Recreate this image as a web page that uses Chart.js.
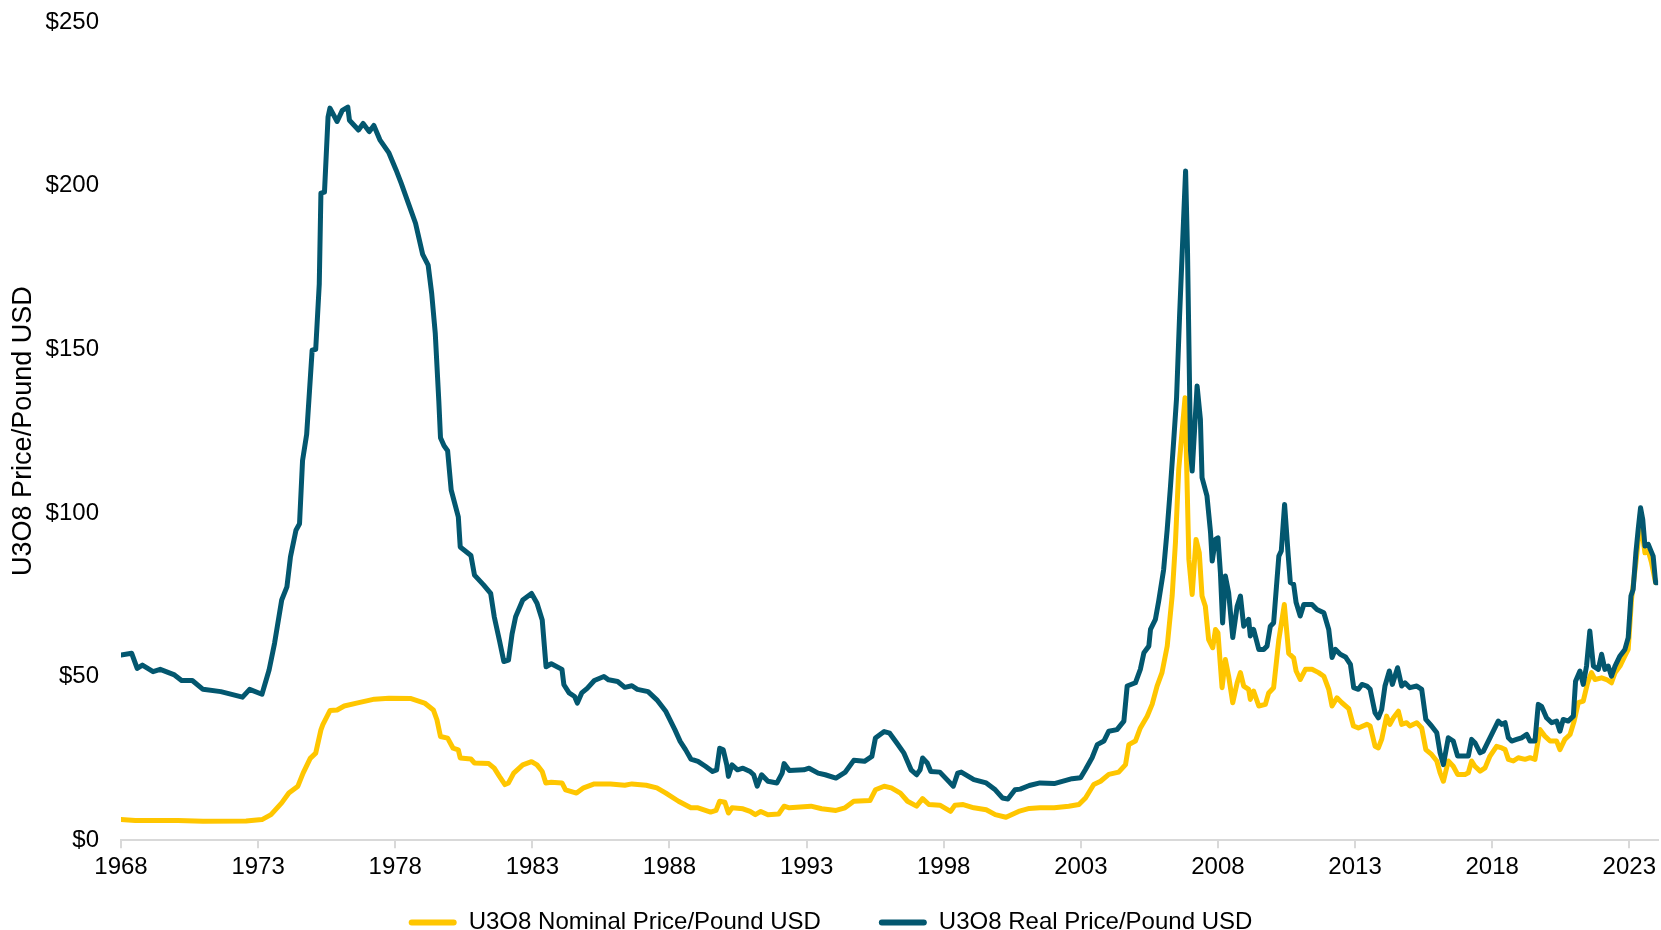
<!DOCTYPE html>
<html>
<head>
<meta charset="utf-8">
<script src="https://cdn.jsdelivr.net/npm/chart.js@4.4.1/dist/chart.umd.min.js"></script>
<style>
  html, body { margin: 0; padding: 0; background: #ffffff; }
  #wrap { width: 1661px; height: 930px; }
</style>
</head>
<body>
<div id="wrap"><canvas id="uranium_canva" width="1661" height="930"></canvas></div>
<script>
// ----- DATA (decimal years) -----
const yearTicks = [1968, 1973, 1978, 1983, 1988, 1993, 1998, 2003, 2008, 2013, 2018, 2023];
const priceTicks = [0, 50, 100, 150, 200, 250];

const realDates = [
    1968.00, 1968.39, 1968.59, 1968.78, 1969.17, 1969.43, 1969.95, 1970.21, 1970.60, 1970.99,
    1971.64, 1972.43, 1972.69, 1973.14, 1973.40, 1973.60, 1973.86, 1974.05, 1974.18, 1974.38,
    1974.51, 1974.62, 1974.77, 1974.97, 1975.10, 1975.23, 1975.29, 1975.42, 1975.55, 1975.62,
    1975.88, 1976.07, 1976.27, 1976.33, 1976.66, 1976.83, 1977.05, 1977.22, 1977.44, 1977.77,
    1978.03, 1978.22, 1978.48, 1978.74, 1979.00, 1979.20, 1979.33, 1979.46, 1979.59, 1979.65,
    1979.78, 1979.91, 1980.04, 1980.30, 1980.37, 1980.76, 1980.89, 1981.22, 1981.48, 1981.61,
    1981.80, 1981.96, 1982.13, 1982.26, 1982.39, 1982.65, 1982.97, 1983.17, 1983.36, 1983.50,
    1983.69, 1984.08, 1984.15, 1984.34, 1984.54, 1984.64, 1984.80, 1985.00, 1985.26, 1985.61,
    1985.78, 1986.11, 1986.37, 1986.63, 1986.83, 1987.22, 1987.54, 1987.87, 1988.20, 1988.39,
    1988.59, 1988.78, 1989.04, 1989.31, 1989.57, 1989.72, 1989.83, 1989.96, 1990.09, 1990.15,
    1990.28, 1990.48, 1990.68, 1990.94, 1991.07, 1991.20, 1991.36, 1991.59, 1991.92, 1992.11,
    1992.18, 1992.37, 1992.90, 1993.09, 1993.42, 1993.68, 1994.07, 1994.40, 1994.72, 1995.11,
    1995.38, 1995.51, 1995.83, 1996.03, 1996.29, 1996.55, 1996.81, 1997.01, 1997.14, 1997.23,
    1997.40, 1997.53, 1997.86, 1998.12, 1998.35, 1998.51, 1998.64, 1999.10, 1999.55, 1999.88,
    2000.14, 2000.34, 2000.60, 2000.79, 2001.12, 2001.51, 2002.03, 2002.68, 2002.99, 2003.17,
    2003.41, 2003.60, 2003.84, 2004.02, 2004.32, 2004.57, 2004.69, 2004.99, 2005.17, 2005.30,
    2005.48, 2005.54, 2005.72, 2005.84, 2006.02, 2006.15, 2006.27, 2006.39, 2006.49, 2006.60,
    2006.82, 2006.89, 2007.00, 2007.06, 2007.24, 2007.36, 2007.42, 2007.60, 2007.73, 2007.79,
    2007.91, 2008.00, 2008.09, 2008.17, 2008.27, 2008.39, 2008.54, 2008.70, 2008.82, 2008.94,
    2009.12, 2009.18, 2009.30, 2009.49, 2009.67, 2009.79, 2009.91, 2010.03, 2010.22, 2010.31,
    2010.43, 2010.56, 2010.64, 2010.76, 2010.85, 2011.00, 2011.13, 2011.43, 2011.61, 2011.86,
    2012.04, 2012.16, 2012.28, 2012.46, 2012.65, 2012.83, 2012.95, 2013.12, 2013.25, 2013.43,
    2013.55, 2013.73, 2013.85, 2013.97, 2014.09, 2014.25, 2014.36, 2014.55, 2014.70, 2014.82,
    2015.00, 2015.25, 2015.43, 2015.58, 2015.79, 2015.98, 2016.10, 2016.22, 2016.40, 2016.58,
    2016.74, 2016.95, 2017.13, 2017.25, 2017.37, 2017.56, 2017.68, 2017.86, 2018.04, 2018.22,
    2018.35, 2018.47, 2018.59, 2018.71, 2018.89, 2019.07, 2019.26, 2019.38, 2019.56, 2019.68,
    2019.80, 2019.98, 2020.17, 2020.35, 2020.47, 2020.59, 2020.77, 2020.96, 2021.04, 2021.20,
    2021.32, 2021.44, 2021.56, 2021.69, 2021.87, 2021.99, 2022.11, 2022.23, 2022.35, 2022.48,
    2022.66, 2022.84, 2022.96, 2023.06, 2023.14, 2023.24, 2023.33, 2023.41, 2023.49, 2023.57,
    2023.69, 2023.79, 2023.87, 2023.96, 2024.02
];
const realPrice = [
    56.6, 57.1, 52.5, 53.5, 51.5, 52.2, 50.5, 48.8, 48.8, 46.1,
    45.4, 43.7, 46.1, 44.6, 52.0, 60.2, 73.4, 77.4, 86.6, 94.7,
    96.7, 116.0, 124.0, 149.7, 150.0, 170.0, 197.7, 198.0, 221.0, 223.7,
    219.6, 223.0, 224.0, 220.0, 217.0, 219.0, 216.5, 218.4, 214.0, 210.0,
    204.8, 200.7, 194.6, 188.5, 179.0, 175.7, 167.0, 154.8, 134.0, 123.0,
    120.5, 119.0, 107.0, 98.8, 89.6, 87.0, 81.0, 78.0, 75.4, 68.3,
    61.0, 54.6, 55.0, 63.0, 68.3, 73.4, 75.4, 72.4, 67.3, 53.0,
    53.9, 52.2, 47.5, 45.0, 43.9, 41.9, 45.0, 46.4, 48.8, 50.0,
    49.0, 48.5, 46.7, 47.2, 46.1, 45.4, 42.9, 39.3, 33.7, 30.2,
    27.6, 24.8, 24.1, 22.6, 21.0, 21.5, 28.1, 27.6, 23.0, 19.5,
    23.0, 21.5, 22.0, 21.0, 20.0, 16.5, 20.0, 18.0, 17.5, 20.5,
    23.4, 21.3, 21.5, 22.0, 20.5, 20.0, 19.0, 20.7, 24.4, 24.1,
    25.6, 31.2, 33.2, 32.7, 29.7, 26.6, 21.5, 20.0, 21.5, 25.1,
    23.6, 21.0, 20.8, 18.5, 16.5, 20.5, 20.8, 18.5, 17.5, 15.4,
    12.9, 12.6, 15.4, 15.6, 16.7, 17.5, 17.3, 18.8, 19.1, 21.6,
    25.2, 29.2, 30.3, 33.3, 33.8, 36.4, 47.1, 48.1, 52.2, 57.3,
    59.3, 64.4, 67.5, 73.1, 82.7, 95.0, 108.2, 122.5, 135.0, 160.0,
    204.5, 180.0, 119.0, 112.8, 138.8, 128.6, 110.8, 105.2, 94.0, 85.3,
    91.9, 92.4, 81.7, 66.4, 80.7, 75.6, 61.9, 71.5, 74.6, 65.4,
    67.5, 62.4, 64.4, 58.3, 58.3, 59.3, 65.4, 66.4, 86.8, 88.4,
    102.6, 87.3, 78.7, 78.2, 72.6, 68.5, 72.0, 72.0, 70.5, 69.5,
    64.4, 55.8, 58.3, 56.8, 56.0, 53.7, 46.6, 46.1, 47.6, 47.1,
    46.1, 38.9, 37.4, 39.9, 47.1, 51.7, 47.6, 52.7, 47.1, 48.1,
    46.6, 47.1, 46.1, 36.9, 34.9, 32.8, 26.7, 23.1, 31.3, 30.3,
    25.7, 25.7, 25.7, 30.8, 29.8, 26.7, 27.2, 30.3, 33.3, 36.4,
    35.4, 35.9, 31.3, 30.3, 30.8, 31.3, 32.3, 30.3, 30.3, 41.5,
    40.9, 37.4, 35.9, 36.4, 33.3, 36.9, 36.4, 37.9, 48.6, 51.7,
    47.6, 53.2, 63.9, 53.2, 52.2, 56.8, 52.2, 53.2, 50.1, 53.2,
    56.3, 58.3, 61.9, 74.6, 76.6, 87.8, 95.5, 101.6, 98.0, 89.9,
    90.4, 88.4, 86.8, 78.7, 78.7
];

const nominalDates = [
    1968.00, 1968.52, 1970.08, 1970.99, 1972.56, 1973.14, 1973.47, 1973.86, 1974.12, 1974.45,
    1974.64, 1974.90, 1975.10, 1975.29, 1975.36, 1975.62, 1975.88, 1976.14, 1976.59, 1977.24,
    1977.77, 1978.55, 1979.07, 1979.39, 1979.52, 1979.65, 1979.91, 1980.11, 1980.30, 1980.37,
    1980.76, 1980.89, 1981.41, 1981.61, 1981.80, 1982.00, 1982.13, 1982.32, 1982.65, 1982.97,
    1983.17, 1983.36, 1983.49, 1983.69, 1984.08, 1984.21, 1984.61, 1984.87, 1985.26, 1985.85,
    1986.37, 1986.63, 1987.15, 1987.54, 1987.87, 1988.33, 1988.78, 1989.04, 1989.50, 1989.70,
    1989.83, 1990.02, 1990.15, 1990.28, 1990.68, 1990.94, 1991.13, 1991.33, 1991.59, 1991.98,
    1992.18, 1992.37, 1993.16, 1993.55, 1994.07, 1994.40, 1994.72, 1995.31, 1995.51, 1995.83,
    1996.09, 1996.42, 1996.68, 1997.01, 1997.23, 1997.46, 1997.86, 1998.25, 1998.41, 1998.71,
    1999.10, 1999.55, 1999.88, 2000.27, 2000.47, 2000.73, 2001.12, 2001.51, 2002.03, 2002.56,
    2002.93, 2003.17, 2003.47, 2003.72, 2004.02, 2004.38, 2004.63, 2004.75, 2004.99, 2005.17,
    2005.42, 2005.60, 2005.78, 2005.96, 2006.15, 2006.33, 2006.45, 2006.57, 2006.80, 2006.94,
    2007.06, 2007.20, 2007.32, 2007.42, 2007.54, 2007.66, 2007.81, 2007.91, 2008.00, 2008.15,
    2008.27, 2008.39, 2008.54, 2008.70, 2008.82, 2008.94, 2009.12, 2009.18, 2009.30, 2009.49,
    2009.73, 2009.85, 2010.03, 2010.22, 2010.42, 2010.58, 2010.76, 2010.85, 2011.00, 2011.19,
    2011.43, 2011.67, 2011.86, 2012.04, 2012.16, 2012.34, 2012.52, 2012.77, 2012.94, 2013.12,
    2013.43, 2013.55, 2013.73, 2013.85, 2013.97, 2014.15, 2014.27, 2014.40, 2014.58, 2014.70,
    2014.88, 2015.00, 2015.25, 2015.43, 2015.58, 2015.79, 2015.98, 2016.10, 2016.22, 2016.40,
    2016.58, 2016.74, 2017.01, 2017.13, 2017.25, 2017.37, 2017.56, 2017.74, 2017.92, 2018.16,
    2018.35, 2018.47, 2018.59, 2018.77, 2018.95, 2019.20, 2019.38, 2019.56, 2019.74, 2019.92,
    2020.11, 2020.35, 2020.47, 2020.65, 2020.84, 2020.99, 2021.14, 2021.32, 2021.48, 2021.62,
    2021.75, 2021.99, 2022.17, 2022.35, 2022.48, 2022.66, 2022.84, 2022.96, 2023.08, 2023.24,
    2023.33, 2023.41, 2023.49, 2023.57, 2023.69, 2023.81, 2023.96
];
const nominalPrice = [
    6.3, 6.0, 6.0, 5.8, 5.9, 6.3, 7.8, 11.4, 14.4, 16.5,
    20.5, 25.0, 26.6, 33.7, 35.3, 39.6, 39.8, 41.0, 41.9, 43.1,
    43.4, 43.3, 41.9, 39.8, 36.8, 31.7, 31.2, 28.1, 27.6, 25.1,
    24.8, 23.6, 23.4, 22.0, 19.5, 17.0, 17.5, 20.5, 23.0, 24.0,
    23.0, 21.0, 17.5, 17.7, 17.5, 15.4, 14.4, 16.0, 17.2, 17.2,
    16.8, 17.2, 16.8, 16.0, 14.4, 11.9, 9.9, 9.9, 8.6, 9.1,
    11.9, 11.6, 8.3, 9.9, 9.6, 8.8, 7.8, 8.8, 7.8, 8.0,
    10.4, 9.9, 10.4, 9.6, 9.1, 9.9, 11.9, 12.1, 15.4, 16.5,
    16.0, 14.4, 11.9, 10.4, 12.7, 10.9, 10.7, 8.8, 10.7, 10.9,
    9.9, 9.3, 7.8, 7.0, 7.8, 8.8, 9.7, 9.9, 9.9, 10.4,
    10.9, 12.9, 17.0, 18.0, 20.1, 20.8, 23.1, 29.2, 30.3, 34.3,
    37.9, 41.5, 47.1, 51.2, 59.3, 74.6, 90.9, 113.3, 135.2, 85.8,
    75.1, 91.9, 87.8, 74.6, 71.5, 61.3, 58.8, 64.4, 63.4, 46.6,
    55.2, 50.1, 42.0, 48.1, 51.2, 47.1, 46.1, 43.0, 45.6, 41.0,
    41.5, 45.0, 46.6, 61.3, 72.0, 57.1, 55.7, 51.7, 49.1, 52.2,
    52.2, 51.2, 50.1, 46.1, 41.0, 43.5, 42.0, 40.2, 34.9, 34.3,
    35.4, 34.9, 28.7, 28.2, 30.8, 37.9, 35.4, 37.4, 39.4, 35.4,
    35.9, 34.9, 35.9, 34.3, 27.7, 26.2, 24.2, 20.6, 18.0, 24.2,
    22.6, 20.1, 20.1, 20.6, 24.2, 22.6, 21.1, 22.1, 25.7, 28.7,
    28.2, 27.7, 24.7, 24.2, 25.2, 24.7, 25.2, 24.7, 33.8, 31.8,
    30.3, 30.3, 27.7, 30.8, 32.3, 36.4, 42.0, 42.5, 48.1, 51.2,
    49.1, 49.6, 49.1, 48.1, 51.2, 53.2, 56.3, 58.3, 73.6, 84.8,
    91.9, 100.1, 92.9, 87.8, 88.4, 84.8, 78.7
];

const toPoints = (xs, ys) => xs.map((x, i) => ({ x: x, y: ys[i] }));

const fontFamily = "'Liberation Sans', Arial, sans-serif";

// legend sits lower than chart.js puts it (wide item gap, small bottom margin)
const legendShift = {
    id: 'legendShift',
    afterLayout(chart) {
        chart.legend.top -= 34.5;
        chart.legend.bottom -= 34.5;
    }
};

// ----- DATASETS (real first so it is drawn on top) -----
const data_uranium = {
    datasets: [{
        label: 'U3O8 Real Price/Pound USD',
        data: toPoints(realDates, realPrice),
        borderColor: '#03576f',
        backgroundColor: '#03576f',
        borderWidth: 5,
        pointRadius: 0,
        tension: 0,
        borderJoinStyle: 'round',
        borderCapStyle: 'round'
    }, {
        label: 'U3O8 Nominal Price/Pound USD',
        data: toPoints(nominalDates, nominalPrice),
        borderColor: '#ffc600',
        backgroundColor: '#ffc600',
        borderWidth: 5,
        pointRadius: 0,
        tension: 0,
        borderJoinStyle: 'round',
        borderCapStyle: 'round'
    }]
};

const config_uranium = {
    type: 'line',
    data: data_uranium,
    plugins: [legendShift],
    options: {
        responsive: false,
        animation: false,
        layout: {
            padding: { top: 22, right: 0, bottom: -49, left: 0 }
        },
        plugins: {
            tooltip: { enabled: false },
            legend: {
                position: 'bottom',
                reverse: true,
                labels: {
                    boxWidth: 48,
                    boxHeight: 6,
                    padding: 58,
                    color: '#000000',
                    useBorderRadius: true,
                    borderRadius: 3,
                    font: { family: fontFamily, size: 24 },
                    generateLabels: function (chart) {
                        const items = Chart.defaults.plugins.legend.labels.generateLabels(chart);
                        items.forEach(function (item) {
                            item.lineWidth = 0;
                            item.fillStyle = item.strokeStyle;
                        });
                        return items;
                    }
                }
            }
        },
        scales: {
            x: {
                type: 'linear',
                min: 1968,
                max: 2024.05,
                afterBuildTicks: function (scale) {
                    scale.ticks = yearTicks.map(v => ({ value: v }));
                },
                ticks: {
                    padding: 5,
                    color: '#000000',
                    font: { family: fontFamily, size: 24 },
                    maxRotation: 0,
                    autoSkip: false,
                    callback: v => String(v)
                },
                grid: {
                    drawOnChartArea: false,
                    drawTicks: true,
                    tickLength: 8,
                    color: '#d9d9d9',
                    lineWidth: 2
                },
                border: { display: true, color: '#d9d9d9', width: 2 }
            },
            y: {
                min: 0,
                max: 250,
                afterBuildTicks: function (scale) {
                    scale.ticks = priceTicks.map(v => ({ value: v }));
                },
                afterFit: function (scale) {
                    scale.width = 121;
                    scale.paddingTop = 0;
                    scale.paddingBottom = 0;
                },
                ticks: {
                    padding: 22,
                    color: '#000000',
                    font: { family: fontFamily, size: 24 },
                    callback: v => '$' + v
                },
                grid: { display: false, drawTicks: false },
                border: { display: false },
                title: {
                    display: true,
                    text: 'U3O8 Price/Pound USD',
                    color: '#000000',
                    font: { family: fontFamily, size: 27 },
                    padding: { top: 7, bottom: 0 }
                }
            }
        }
    }
};

var uranium = new Chart(
    document.getElementById('uranium_canva'),
    config_uranium
);
</script>
</body>
</html>
